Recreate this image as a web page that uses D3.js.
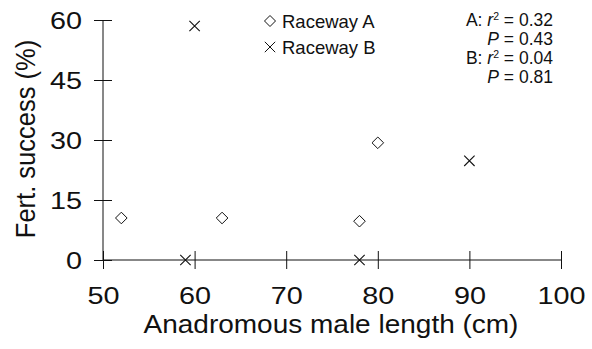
<!DOCTYPE html>
<html><head><meta charset="utf-8">
<script src="https://cdn.jsdelivr.net/npm/d3@7"></script>
<style>body{margin:0;background:#fff}svg{display:block}text{font-family:"Liberation Sans",Arial,sans-serif;fill:#111}</style>
</head><body><svg id="c" width="592" height="349"></svg>
<script>
const xTicks = [50, 60, 70, 80, 90, 100];
const yTicks = [0, 15, 30, 45, 60];
const lengthA = [52, 63, 78, 80];
const successA = [10.5, 10.5, 9.7, 29.3];
const lengthB = [59, 60, 78, 90];
const successB = [0, 58.5, 0, 24.8];
const legendLabels = ["Raceway A", "Raceway B"];
const statsA = {r2: "0.32", p: "0.43"};
const statsB = {r2: "0.04", p: "0.81"};

const svg = d3.select("#c");
const x = d3.scaleLinear().domain([50, 100]).range([103, 561]);
const y = d3.scaleLinear().domain([0, 60]).range([260, 20]);
const FONT = '"Liberation Sans",Arial,sans-serif';

// axes
const gx = svg.append("g").attr("transform", "translate(0,260)")
  .call(d3.axisBottom(x).tickValues(xTicks).tickSize(9).tickPadding(0));
gx.select(".domain").attr("d", `M${x(50)},0H${x(100)}`).attr("stroke", "#111");
gx.selectAll(".tick line").attr("y1", -9).attr("y2", 9).attr("stroke", "#111");
gx.selectAll(".tick text").attr("y", 44).attr("dy", null).attr("transform", "scale(1.2,1)")
  .style("font-size", "24px").style("font-family", FONT).attr("fill", "#111");

const gy = svg.append("g").attr("transform", "translate(103,0)")
  .call(d3.axisLeft(y).tickValues(yTicks).tickSize(9).tickPadding(0));
gy.select(".domain").attr("d", `M0,${y(0)}V${y(60)}`).attr("stroke", "#111");
gy.selectAll(".tick line").attr("x1", -9).attr("x2", 9).attr("stroke", "#111");
gy.selectAll(".tick text").attr("x", -21 / 1.2).attr("dy", "0.36em").attr("transform", "scale(1.2,1)")
  .style("font-size", "24px").style("font-family", FONT).attr("fill", "#111");

// titles
svg.append("text").attr("transform", "translate(331,333) scale(1.12,1)").attr("text-anchor", "middle")
  .style("font-size", "25px").text("Anadromous male length (cm)");
svg.append("text").attr("transform", "translate(35,139) scale(1.1,1) rotate(-90)").attr("text-anchor", "middle")
  .style("font-size", "25.5px").text("Fert. success (%)");

const diamond = s => `M0,${-s}L${s},0L0,${s}L${-s},0Z`;
const cross = s => `M${-s},${-s}L${s},${s}M${-s},${s}L${s},${-s}`;

svg.append("g").selectAll("path").data(lengthA.map((v, i) => [v, successA[i]])).join("path")
  .attr("transform", d => `translate(${x(d[0])},${y(d[1])})`)
  .attr("d", diamond(5.8)).attr("fill", "none").attr("stroke", "#111").attr("stroke-width", 1);
svg.append("g").selectAll("path").data(lengthB.map((v, i) => [v, successB[i]])).join("path")
  .attr("transform", d => `translate(${x(d[0])},${y(d[1])})`)
  .attr("d", cross(5.2)).attr("fill", "none").attr("stroke", "#111").attr("stroke-width", 1.1);

// legend
const lg = svg.append("g");
lg.append("path").attr("transform", "translate(270,21)").attr("d", diamond(5.5))
  .attr("fill", "none").attr("stroke", "#111");
lg.append("text").attr("x", 282).attr("y", 27.5).style("font-size", "18.5px").text(legendLabels[0]);
lg.append("path").attr("transform", "translate(270,47)").attr("d", cross(5.2))
  .attr("fill", "none").attr("stroke", "#111");
lg.append("text").attr("x", 282).attr("y", 53.5).style("font-size", "18.5px").text(legendLabels[1]);

// stats
function statLine(yy, prefix, isR, val) {
  const t = svg.append("text").attr("x", 553).attr("y", yy).attr("text-anchor", "end").style("font-size", "17.5px");
  if (prefix) t.append("tspan").text(prefix + " ");
  if (isR) {
    t.append("tspan").style("font-style", "italic").text("r");
    t.append("tspan").attr("dy", -6).style("font-size", "10.5px").text("2");
    t.append("tspan").attr("dy", 6).text(" = " + val);
  } else {
    t.append("tspan").style("font-style", "italic").text("P");
    t.append("tspan").text(" = " + val);
  }
}
statLine(25.5, "A:", true, statsA.r2);
statLine(44.5, null, false, statsA.p);
statLine(64, "B:", true, statsB.r2);
statLine(82.5, null, false, statsB.p);
</script></body></html>
